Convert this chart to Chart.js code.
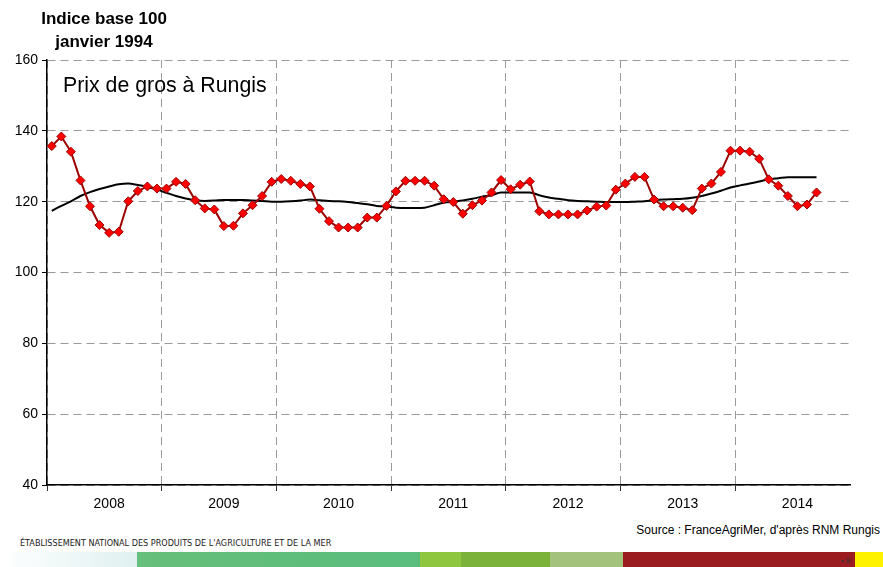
<!DOCTYPE html>
<html>
<head>
<meta charset="utf-8">
<script src="https://cdn.jsdelivr.net/npm/chart.js@4/dist/chart.umd.min.js"></script>
<style>
  html, body { margin: 0; padding: 0; background: #fff; }
  body { width: 883px; height: 567px; position: relative; overflow: hidden; font-family: "Liberation Sans", Arial, sans-serif; }
  #wrap { position: absolute; left: 0; top: 0; width: 883px; height: 515px; }
  .titre { position: absolute; font-weight: bold; font-size: 17px; color: #000; text-align: center; width: 160px; left: 24px; line-height: 23px; top: 7px; }
  .prix { position: absolute; left: 63px; top: 73px; font-size: 21.3px; color: #000; }
  .source { position: absolute; right: 3px; top: 523px; font-size: 12px; color: #000; }
  .etab { position: absolute; left: 20px; top: 538px; font-family: "Liberation Sans Narrow", "DejaVu Sans Condensed", sans-serif; font-size: 9px; color: #222; white-space: nowrap; }
  .band { position: absolute; top: 552px; height: 15px; }
  .page { position: absolute; left: 841px; top: 556px; font-size: 8px; color: #333; }
</style>
</head>
<body>
<div id="wrap"><canvas id="graphe"></canvas></div>
<div class="titre">Indice base 100<br>janvier 1994</div>
<div class="prix">Prix de gros à Rungis</div>
<div class="source">Source : FranceAgriMer, d'après RNM Rungis</div>
<div class="etab">ÉTABLISSEMENT NATIONAL DES PRODUITS DE L'AGRICULTURE ET DE LA MER</div>
<div class="band" style="left:0;width:137px;background:linear-gradient(to right,#ffffff,#dff0f0);"></div>
<div class="band" style="left:137px;width:283px;background:linear-gradient(to right,#66bf7a,#5abd7d);"></div>
<div class="band" style="left:420px;width:41px;background:#8fc640;"></div>
<div class="band" style="left:461px;width:89px;background:#7ab23a;"></div>
<div class="band" style="left:550px;width:73px;background:#a3c27c;"></div>
<div class="band" style="left:623px;width:232px;background:#9a1b20;"></div>
<div class="band" style="left:855px;width:28px;background:#fff200;"></div>
<div class="page">• 8</div>
<script>
  /* =========================
     DONNEES
     ========================= */
  const annees = ["2008", "2009", "2010", "2011", "2012", "2013", "2014"];
  const mois = ["01", "02", "03", "04", "05", "06", "07", "08", "09", "10", "11", "12"];

  // indice mensuel des prix de gros a Rungis (jan 2008 -> sept 2014)
  const prixRungis = [
    135.7, 138.4, 134.1, 126.0, 118.7, 113.4, 111.2, 111.5, 120.1, 123.0, 124.3, 123.7,
    123.7, 125.6, 125.0, 120.4, 118.1, 117.8, 113.1, 113.2, 116.7, 119.0, 121.6, 125.6,
    126.4, 125.9, 125.0, 124.3, 118.0, 114.5, 112.7, 112.7, 112.7, 115.5, 115.5, 118.8,
    122.9, 125.9, 125.9, 125.9, 124.5, 120.7, 119.9, 116.6, 119.0, 120.3, 122.6, 126.1,
    123.5, 124.8, 125.7, 117.3, 116.4, 116.4, 116.4, 116.4, 117.5, 118.6, 118.9, 123.4,
    125.1, 127.0, 127.0, 120.6, 118.7, 118.7, 118.3, 117.6, 123.7, 125.1, 128.4, 134.4,
    134.4, 134.1, 132.1, 126.3, 124.5, 121.6, 118.7, 119.2, 122.6
  ];

  // moyenne mobile (tendance)
  const tendance = [
    117.4, 118.8, 120.1, 121.6, 122.7, 123.6, 124.3, 124.9, 125.1, 124.7, 124.2, 123.4,
    122.5, 121.6, 120.9, 120.4, 120.2, 120.3, 120.5, 120.5, 120.5, 120.3, 120.2, 120.0,
    120.0, 120.1, 120.3, 120.6, 120.4, 120.2, 120.1, 119.9, 119.6, 119.3, 118.8, 118.6,
    118.3, 118.2, 118.2, 118.3, 119.0, 119.7, 120.0, 120.3, 120.8, 121.4, 121.8, 122.6,
    122.6, 122.6, 122.6, 121.8, 121.2, 120.8, 120.4, 120.2, 120.1, 120.0, 119.9, 119.9,
    119.9, 120.0, 120.1, 120.4, 120.6, 120.7, 120.8, 121.1, 121.6, 122.3, 123.1, 124.0,
    124.6, 125.1, 125.7, 126.3, 126.6, 126.9, 126.9, 126.9, 126.9
  ];

  const yMin = 40, yMax = 160, yPas = 20;

  const labels = [];
  annees.forEach(a => mois.forEach(m => labels.push(a + "-" + m)));

  /* =========================
     GRAPHIQUE
     ========================= */
  const grisGrille = "#9a9a9a";

  new Chart(document.getElementById("graphe"), {
    type: "line",
    data: {
      labels,
      datasets: [
        {
          label: "Prix de gros",
          data: prixRungis,
          borderColor: "#9c0000",
          borderWidth: 2,
          pointStyle: "rectRot",
          pointRadius: 4.5,
          pointBackgroundColor: "#ff0000",
          pointBorderColor: "#a00000",
          pointBorderWidth: 1,
          tension: 0
        },
        {
          label: "Tendance",
          data: tendance,
          borderColor: "#000",
          borderWidth: 2,
          pointRadius: 0,
          cubicInterpolationMode: "monotone"
        }
      ]
    },
    options: {
      responsive: true,
      maintainAspectRatio: false,
      animation: false,
      layout: { padding: { left: 0, right: 33, top: 60, bottom: 0 } },
      plugins: {
        legend: { display: false },
        tooltip: { enabled: false }
      },
      scales: {
        x: {
          offset: true,
          grid: {
            offset: true,
            color: ctx => ctx.index % 12 === 0 ? grisGrille : "transparent",
            tickColor: ctx => ctx.index % 12 === 0 ? "#333" : "transparent",
            lineWidth: 1,
            tickLength: 6
          },
          border: { color: "#000", width: 1.5, dash: [8, 5] },
          ticks: {
            autoSkip: false,
            maxRotation: 0,
            padding: 5,
            color: "#000",
            font: { family: "Liberation Sans", size: 14 },
            callback: (v, i) => i % 12 === 6 ? labels[i].slice(0, 4) : ""
          },
          afterFit: s => { s.height = 30; }
        },
        y: {
          min: yMin,
          max: yMax,
          ticks: {
            stepSize: yPas,
            padding: 4,
            color: "#000",
            font: { family: "Liberation Sans", size: 14 }
          },
          grid: {
            color: grisGrille,
            tickColor: "#000",
            tickLength: 5,
            lineWidth: 1
          },
          border: { color: "#000", width: 1.5, dash: [8, 5] },
          afterFit: s => { s.width = 47; }
        }
      }
    }
  });
</script>
</body>
</html>
